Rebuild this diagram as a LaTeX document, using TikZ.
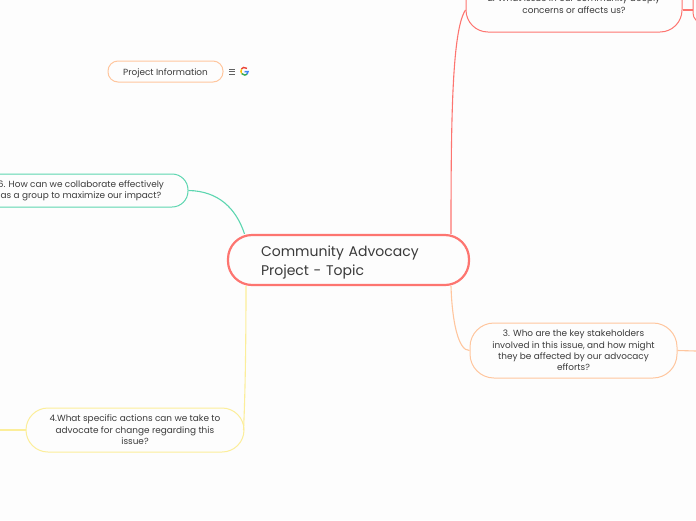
\documentclass[tikz,border=0pt]{standalone}
\usepackage{fontspec}
\setmainfont{Poppins}
\usepackage{xcolor}
\definecolor{paper}{HTML}{FDFDFD}
\definecolor{ink}{HTML}{3A3A3A}
\definecolor{coral}{HTML}{FD7570}
\definecolor{peach}{HTML}{FFC69E}
\definecolor{mint}{HTML}{5CD6B0}
\definecolor{lemon}{HTML}{FCEE9A}
\definecolor{gblue}{HTML}{4285F4}
\definecolor{ggreen}{HTML}{34A853}
\definecolor{gyellow}{HTML}{FBBC05}
\definecolor{gred}{HTML}{EA4335}

\begin{document}
\begin{tikzpicture}[
    x=1pt, y=-1pt,
    topic/.style={draw, rounded corners=22pt, line width=1pt, align=center, text=ink,
        inner sep=0, font=\fontsize{8.9}{11.4}\selectfont,
        execute at begin node={\rule{0pt}{10pt}}},
    link/.style={line width=1.1pt}
]
\useasboundingbox (0,0) rectangle (696,520);
\clip (0,0) rectangle (696,520);
\fill[paper] (0,0) rectangle (696,520);

% Centre topic
\node[draw=coral, rounded corners=24pt, line width=2.2pt, align=left, text=ink, inner xsep=33pt, inner ysep=0,
    text width=175pt, minimum height=50pt, font=\fontsize{14}{19}\selectfont,
    execute at begin node={\rule{0pt}{15pt}}] (root) at (348.5,260)
    {Community Advocacy\\ Project - Topic};

% Questions
\node[topic, draw=coral, minimum width=216pt, minimum height=56pt] (issue) at (574,4)
    {2. What issue in our community deeply\\ concerns or affects us?};
\node[topic, draw=peach, rounded corners=24pt, minimum width=207pt, minimum height=55pt] (stake) at (573.5,350.5)
    {3. Who are the key stakeholders\\ involved in this issue, and how might\\ they be affected by our advocacy\\ efforts?};
\node[topic, draw=lemon, minimum width=218pt, minimum height=44pt] (action) at (135,430)
    {4.What specific actions can we take to\\ advocate for change regarding this\\ issue?};
\node[topic, draw=mint, rounded corners=16pt, minimum width=214pt, minimum height=33pt] (team) at (81,190.5)
    {6. How can we collaborate effectively\\ as a group to maximize our impact?};
\node[topic, draw=peach, rounded corners=10pt, minimum width=115pt, minimum height=21pt] (info) at (165.5,71.5)
    {Project Information};

% Child boxes cut off by the right edge
\node[draw=coral, rounded corners=10pt, line width=1pt, minimum width=30pt, minimum height=40pt] (issuekid) at (708,3) {};

% Free ends
\coordinate (stakeout) at (696,351);
\coordinate (actionout) at (0,430);

% Branches
\draw[link, coral] ([xshift=102.5pt]root.north) .. controls (451,120) and (452,30) .. (issue.west |- 0,10);
\draw[link, peach] ([xshift=102.5pt]root.south) .. controls (452,320) and (458,351) .. (stake.west);
\draw[link, mint] ([xshift=-104pt]root.north) .. controls (236,208) and (218,191) .. (team.east);
\draw[link, lemon] ([xshift=-102.5pt]root.south) .. controls (246,350) and (245,400) .. (243.5,430);
\draw[link, coral] (issue.east |- 0,10) -- (issuekid.west |- 0,10);
\draw[link, peach] (stake.east) -- (stakeout);
\draw[link, lemon] (action.west) -- (actionout);

% Notes icon
\draw[ink!80, line width=0.7pt] (229,69) -- (235,69) (229,71.5) -- (235,71.5) (229,74) -- (235,74);

% Google mark
\draw[gred, line width=1.4pt] (247,68.4) arc (-45:-145:3.6);
\draw[gyellow, line width=1.4pt] (241.6,69.2) arc (-145:-215:3.6);
\draw[ggreen, line width=1.4pt] (241.6,73.6) arc (145:45:3.6);
\draw[gblue, line width=1.4pt] (247,74.2) arc (45:0:3.6) -- (244.5,71.6);
\end{tikzpicture}
\end{document}
